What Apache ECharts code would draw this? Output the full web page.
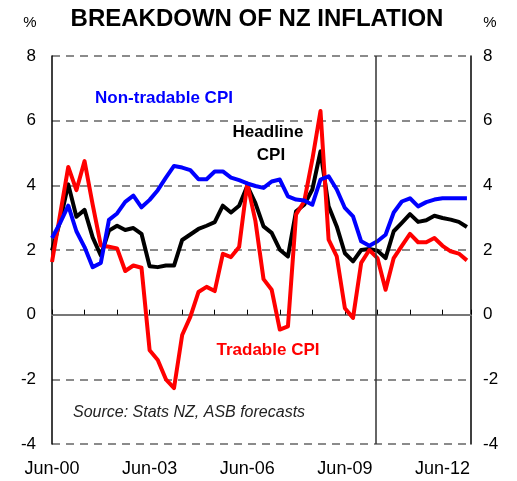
<!DOCTYPE html>
<html>
<head>
<meta charset="utf-8">
<script src="https://cdn.jsdelivr.net/npm/echarts@6.0.0/dist/echarts.min.js"></script>
<style>
  html, body { margin: 0; padding: 0; background: #fff; }
  #chart { width: 517px; height: 481px; }
</style>
</head>
<body>
<div id="chart"></div>
<script>
// quarterly, Jun-00 .. Mar-13
var quarters = [
  "Jun-00", "Sep-00", "Dec-00", "Mar-01", "Jun-01", "Sep-01", "Dec-01", "Mar-02",
  "Jun-02", "Sep-02", "Dec-02", "Mar-03", "Jun-03", "Sep-03", "Dec-03", "Mar-04",
  "Jun-04", "Sep-04", "Dec-04", "Mar-05", "Jun-05", "Sep-05", "Dec-05", "Mar-06",
  "Jun-06", "Sep-06", "Dec-06", "Mar-07", "Jun-07", "Sep-07", "Dec-07", "Mar-08",
  "Jun-08", "Sep-08", "Dec-08", "Mar-09", "Jun-09", "Sep-09", "Dec-09", "Mar-10",
  "Jun-10", "Sep-10", "Dec-10", "Mar-11", "Jun-11", "Sep-11", "Dec-11", "Mar-12",
  "Jun-12", "Sep-12", "Dec-12", "Mar-13"
];
var tickLabels = ["Jun-00", "Jun-03", "Jun-06", "Jun-09", "Jun-12"];

var tradable = [
  1.63, 3.1, 4.57, 3.85, 4.75, 3.4, 2.14, 2.1, 2.05, 1.35, 1.52, 1.45, -1.1,
  -1.4, -2.0, -2.27, -0.63, -0.07, 0.7, 0.86, 0.73, 1.88, 1.78, 2.09, 4.06,
  2.9, 1.1, 0.77, -0.46, -0.36, 3.1, 3.5, 4.8, 6.3, 2.32, 1.8, 0.2, -0.1,
  1.6, 2.0, 1.75, 0.77, 1.75, 2.13, 2.5, 2.24, 2.24, 2.37, 2.13, 1.96, 1.89, 1.68
];
var headline = [
  1.98, 2.9, 4.03, 3.03, 3.24, 2.39, 1.83, 2.6, 2.75, 2.62, 2.68, 2.5, 1.5,
  1.47, 1.52, 1.52, 2.31, 2.48, 2.65, 2.75, 2.86, 3.37, 3.16, 3.37, 3.98,
  3.45, 2.73, 2.53, 2.01, 1.8, 3.2, 3.4, 3.87, 5.05, 3.35, 2.73, 1.9, 1.65,
  2.0, 2.03, 1.98, 1.75, 2.58, 2.84, 3.11, 2.87, 2.92, 3.06, 2.99, 2.94, 2.87, 2.71
];
var nonTradable = [
  2.37, 2.84, 3.37, 2.58, 2.09, 1.47, 1.6, 2.93, 3.13, 3.49, 3.68, 3.32, 3.55,
  3.85, 4.24, 4.6, 4.55, 4.47, 4.19, 4.19, 4.43, 4.43, 4.24, 4.16, 4.06,
  3.98, 3.92, 4.12, 4.18, 3.66, 3.56, 3.53, 3.4, 4.18, 4.28, 3.87, 3.3, 3.04,
  2.27, 2.13, 2.27, 2.47, 3.16, 3.5, 3.6, 3.35, 3.48, 3.56, 3.6, 3.6, 3.6, 3.6
];
var forecastStart = 39.8; // position of the forecast divider, in quarters from Jun-00

var chart = echarts.init(document.getElementById("chart"));
var FONT = "Liberation Sans, Arial, sans-serif";

function pairs(arr) {
  return arr.map(function (v, i) { return [i, v]; });
}

function lineSeries(name, data, color) {
  return {
    name: name,
    type: "line",
    data: pairs(data),
    showSymbol: false,
    symbol: "none",
    lineStyle: { color: color, width: 4, join: "round" },
    itemStyle: { color: color },
    animation: false
  };
}

var series = [
  lineSeries("Headline CPI", headline, "#000000"),
  lineSeries("Tradable CPI", tradable, "#ff0000"),
  lineSeries("Non-tradable CPI", nonTradable, "#0000ff")
];
series[0].markLine = {
  silent: true,
  symbol: "none",
  label: { show: false },
  lineStyle: { color: "#333", width: 1.5, type: "solid" },
  data: [{ xAxis: forecastStart }]
};

var option = {
  backgroundColor: "#fff",
  animation: false,
  grid: { left: 52, right: 46, top: 56, bottom: 37 },
  xAxis: [
    {
      type: "value",
      position: "bottom",
      min: 0,
      max: 51.5,
      interval: 4,
      axisLine: { show: false, onZero: false },
      axisTick: { show: false },
      splitLine: { show: false },
      axisLabel: {
        margin: 16,
        fontSize: 18,
        fontFamily: FONT,
        color: "#000",
        showMaxLabel: false,
        formatter: function (v) {
          if (v % 12 !== 0) return "";
          return tickLabels[v / 12] || "";
        }
      }
    },
    {
      type: "value",
      position: "bottom",
      min: 0,
      max: 51.5,
      interval: 4,
      axisLine: { show: true, onZero: true, lineStyle: { color: "#777", width: 2 } },
      axisTick: { show: true, inside: true, length: 5, lineStyle: { color: "#000", width: 1 } },
      axisLabel: { show: false },
      splitLine: { show: false }
    }
  ],
  yAxis: [
    {
      type: "value",
      position: "left",
      min: -4,
      max: 8,
      interval: 2,
      axisLine: { show: true, onZero: false, lineStyle: { color: "#000", width: 1.5 } },
      axisTick: { show: false },
      axisLabel: { margin: 16, fontSize: 17, fontFamily: FONT, color: "#000" },
      splitLine: { show: true, lineStyle: { color: "#666", width: 1.5, type: [8, 6] } }
    },
    {
      type: "value",
      position: "right",
      min: -4,
      max: 8,
      interval: 2,
      axisLine: { show: true, onZero: false, lineStyle: { color: "#000", width: 1.5 } },
      axisTick: { show: false },
      axisLabel: { margin: 12, fontSize: 17, fontFamily: FONT, color: "#000" },
      splitLine: { show: false }
    }
  ],
  graphic: [
    {
      type: "text", x: 257, y: 19,
      style: { text: "BREAKDOWN OF NZ INFLATION", fill: "#000", font: "bold 24px " + FONT,
        textAlign: "center", textVerticalAlign: "middle" }
    },
    {
      type: "text", x: 30, y: 23,
      style: { text: "%", fill: "#000", font: "15px " + FONT, textAlign: "center", textVerticalAlign: "middle" }
    },
    {
      type: "text", x: 490, y: 23,
      style: { text: "%", fill: "#000", font: "15px " + FONT, textAlign: "center", textVerticalAlign: "middle" }
    },
    {
      type: "text", x: 164, y: 98,
      style: { text: "Non-tradable CPI", fill: "#0000ff", font: "bold 17px " + FONT,
        textAlign: "center", textVerticalAlign: "middle" }
    },
    {
      type: "text", x: 268, y: 132,
      style: { text: "Headline", fill: "#000", font: "bold 17px " + FONT,
        textAlign: "center", textVerticalAlign: "middle" }
    },
    {
      type: "text", x: 271, y: 155,
      style: { text: "CPI", fill: "#000", font: "bold 17px " + FONT,
        textAlign: "center", textVerticalAlign: "middle" }
    },
    {
      type: "text", x: 268, y: 350,
      style: { text: "Tradable CPI", fill: "#ff0000", font: "bold 17px " + FONT,
        textAlign: "center", textVerticalAlign: "middle" }
    },
    {
      type: "text", x: 73, y: 413,
      style: { text: "Source: Stats NZ, ASB forecasts", fill: "#222", font: "italic 16px " + FONT,
        textAlign: "left", textVerticalAlign: "middle" }
    }
  ],
  series: series
};

chart.setOption(option);
</script>
</body>
</html>
